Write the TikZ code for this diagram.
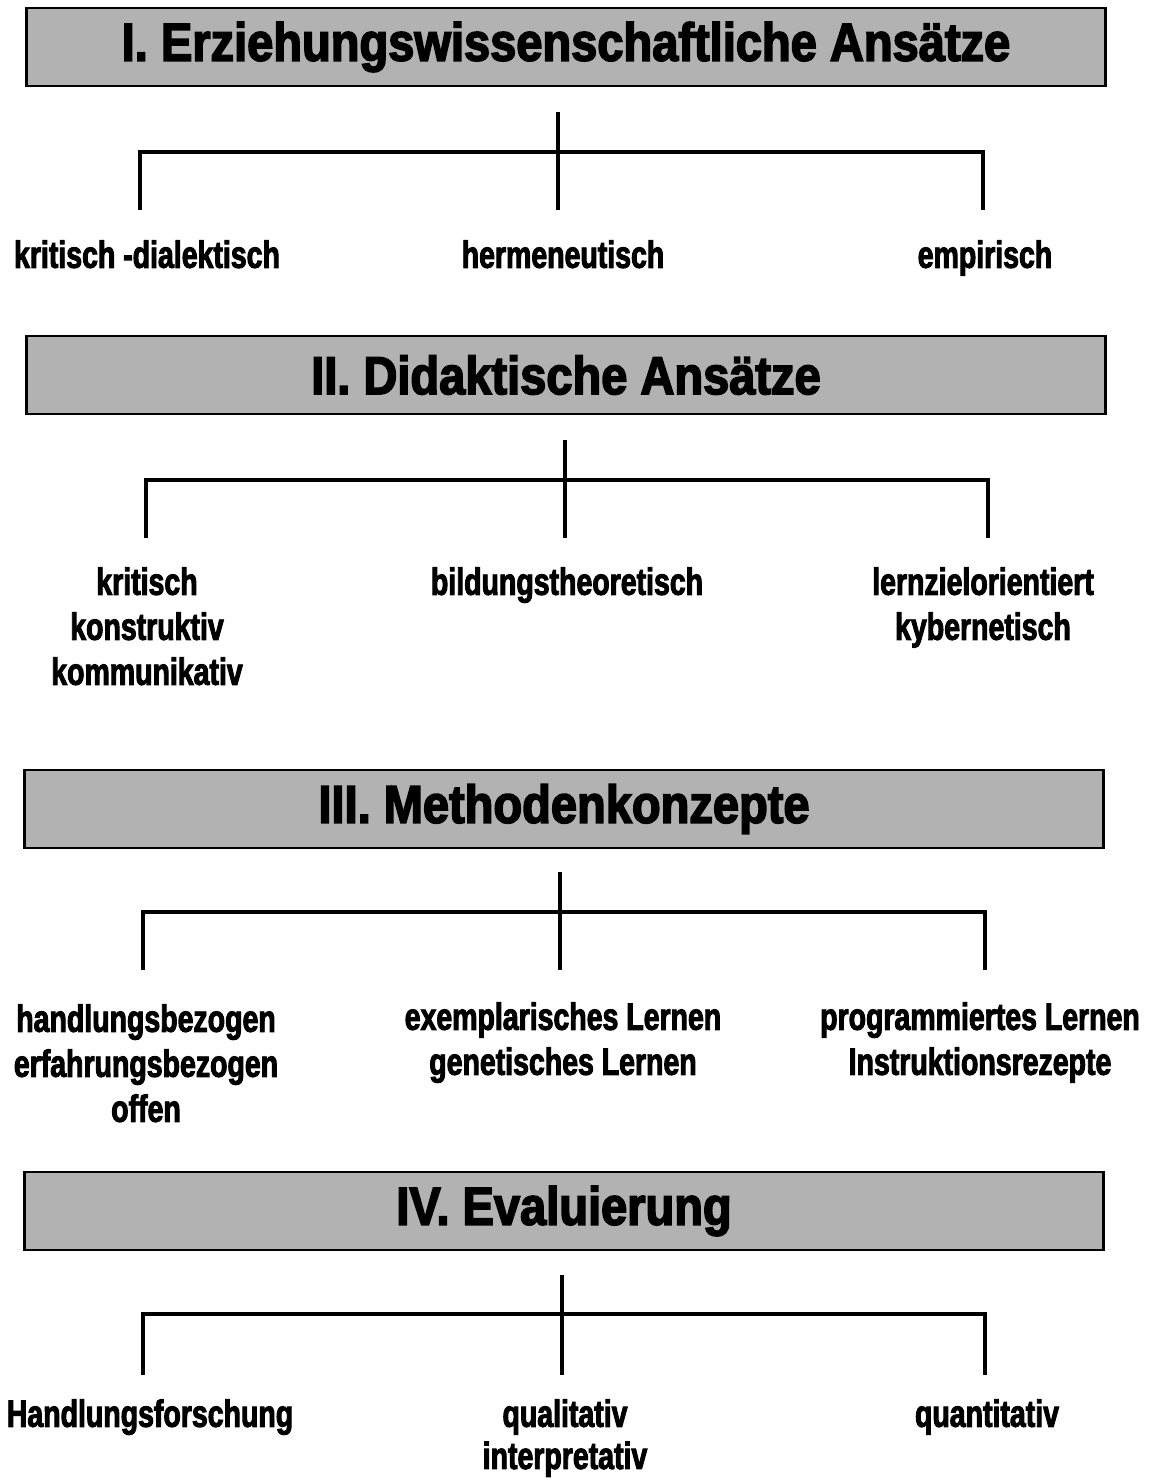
\documentclass[tikz,border=0pt]{standalone}
\usepackage{fontspec}
\setmainfont{Liberation Sans}
\newfontfamily\headfont[FakeStretch=0.88,FakeBold=3]{Liberation Sans Bold}
\newfontfamily\heavyfont[FakeStretch=0.75,FakeBold=2.5]{Liberation Sans Bold}
\usepackage{tikz}
\usetikzlibrary{positioning, calc}

\begin{document}
\begin{tikzpicture}[
        x=0.025cm, y=-0.025cm,
        % Define styles for the nodes
        header/.style={draw, line width=2pt, fill=black!30, minimum width=26.95cm, minimum height=1.95cm,
            inner sep=0pt, font=\headfont\fontsize{38}{40}\selectfont},
        label/.style={anchor=north, align=center, inner sep=0pt, font=\heavyfont\fontsize{27}{32}\selectfont},
        branch/.style={line width=2.6pt}
    ]
    \useasboundingbox (0,0) rectangle (1156,1480);

    % I. Erziehungswissenschaftliche Ansaetze
    \node (head1) [header] at (566,47) {I. Erziehungswissenschaftliche Ansätze};
    \coordinate (stem1) at (558,112);
    \coordinate (mid1) at (558,210);
    \coordinate (left1) at (140,210);
    \coordinate (right1) at (983,210);
    \draw [branch] (stem1) -- (mid1);
    \draw [branch] (left1) -- ++(0,-58) -| (right1);
    \node (krit) [label] at (147,240) {kritisch -dialektisch};
    \node (herm) [label] at (563,240) {hermeneutisch};
    \node (emp) [label] at (985,240) {empirisch};

    % II. Didaktische Ansaetze
    \node (head2) [header] at (566,375) {II. Didaktische Ansätze};
    \coordinate (stem2) at (565,440);
    \coordinate (mid2) at (565,538);
    \coordinate (left2) at (146,538);
    \coordinate (right2) at (988,538);
    \draw [branch] (stem2) -- (mid2);
    \draw [branch] (left2) -- ++(0,-58) -| (right2);
    \node (kkk) [label] at (147,567) {kritisch\\konstruktiv\\kommunikativ};
    \node (bild) [label] at (567,567) {bildungstheoretisch};
    \node (lern) [label] at (983,567) {lernzielorientiert\\kybernetisch};

    % III. Methodenkonzepte
    \node (head3) [header] at (564,809) {III. Methodenkonzepte};
    \coordinate (stem3) at (560,872);
    \coordinate (mid3) at (560,970);
    \coordinate (left3) at (143,970);
    \coordinate (right3) at (985,970);
    \draw [branch] (stem3) -- (mid3);
    \draw [branch] (left3) -- ++(0,-58) -| (right3);
    \node (handl) [label] at (146,1004) {handlungsbezogen\\erfahrungsbezogen\\offen};
    \node (exempl) [label] at (563,1002) {exemplarisches Lernen\\genetisches Lernen};
    \node (progr) [label] at (980,1002) {programmiertes Lernen\\Instruktionsrezepte};

    % IV. Evaluierung
    \node (head4) [header] at (564,1211) {IV. Evaluierung};
    \coordinate (stem4) at (562,1275);
    \coordinate (mid4) at (562,1375);
    \coordinate (left4) at (143,1375);
    \coordinate (right4) at (985,1375);
    \draw [branch] (stem4) -- (mid4);
    \draw [branch] (left4) -- ++(0,-61) -| (right4);
    \node (hforsch) [label] at (150,1399) {Handlungsforschung};
    \node (quali) [label, font=\heavyfont\fontsize{27}{30}\selectfont] at (565,1399) {qualitativ\\interpretativ};
    \node (quanti) [label] at (987,1399) {quantitativ};

\end{tikzpicture}
\end{document}
